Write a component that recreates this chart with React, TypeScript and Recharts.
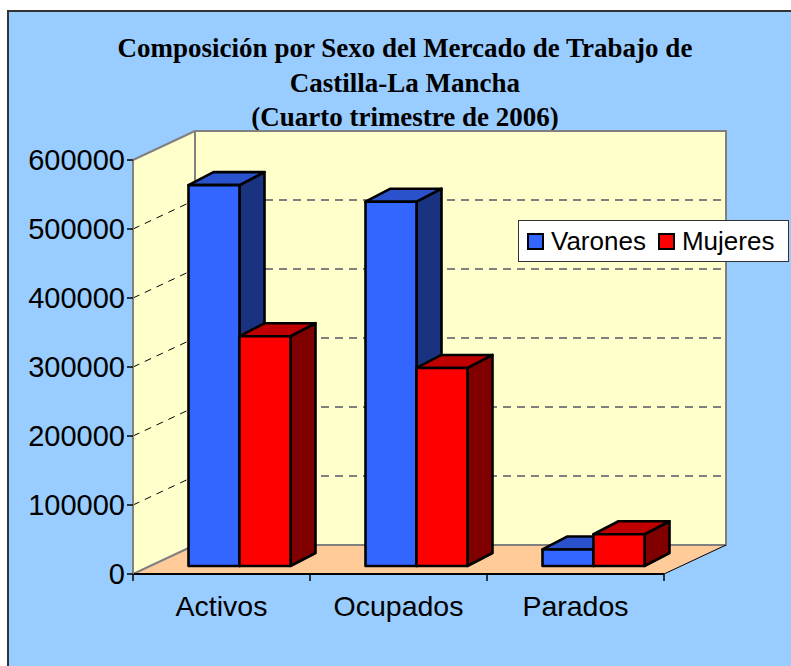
import React from 'react';
import { BarChart, Bar, XAxis, YAxis, ReferenceArea, ReferenceLine, Legend } from 'recharts';

const categories = ['Activos', 'Ocupados', 'Parados'];
const seriesNames = ['Varones', 'Mujeres'];
const varones = [552000, 528000, 24000];
const mujeres = [333000, 287000, 46000];
const yTicks = [0, 100000, 200000, 300000, 400000, 500000, 600000];
const gridValues = [100000, 200000, 300000, 400000, 500000];
const titleLines = [
  'Composición por Sexo del Mercado de Trabajo de',
  'Castilla-La Mancha',
  '(Cuarto trimestre de 2006)',
];

const data = categories.map((c, i) => ({ cat: c, Varones: varones[i], Mujeres: mujeres[i] }));

const DX = 62;
const DY = -29;
const BOX = 17.5;
const BOY = -8;
const BDX = 25;
const BDY = -13;

const SANS = '"Liberation Sans", Arial, sans-serif';
const SERIF = '"Liberation Serif", "Times New Roman", serif';

const pts = (arr: number[][]) => arr.map((a) => a.join(',')).join(' ');

function make3D(front: string, top: string, side: string) {
  return (p: any) => {
    const { x, y, width, height } = p;
    if (x == null || y == null || !width || height == null) return <g />;
    const fx = x + BOX;
    const fy = y + BOY;
    const w = width;
    const h = height;
    const common = { stroke: '#000', strokeWidth: 2.6, strokeLinejoin: 'round' as const };
    return (
      <g>
        <polygon
          points={pts([
            [fx + w, fy],
            [fx + w + BDX, fy + BDY],
            [fx + w + BDX, fy + h + BDY],
            [fx + w, fy + h],
          ])}
          fill={side}
          {...common}
        />
        <polygon
          points={pts([
            [fx, fy],
            [fx + BDX, fy + BDY],
            [fx + w + BDX, fy + BDY],
            [fx + w, fy],
          ])}
          fill={top}
          {...common}
        />
        <rect x={fx} y={fy} width={w} height={h} fill={front} {...common} />
      </g>
    );
  };
}

const Walls = (p: any) => {
  const { x, y, width: w, height: h } = p;
  if (x == null) return <g />;
  const b = y + h;
  const ticks = [0, 1, 2, 3].map((i) => x + (i * w) / 3);
  return (
    <g>
      <polygon points={pts([[x, y], [x + DX, y + DY], [x + DX, b + DY], [x, b]])} fill="#FFFFCC" />
      <rect x={x + DX} y={y + DY} width={w} height={h} fill="#FFFFCC" stroke="#808080" strokeWidth={2} />
      <polygon points={pts([[x, b], [x + DX, b + DY], [x + w + DX, b + DY], [x + w, b]])} fill="#FFCC99" />
      <line x1={x} y1={y} x2={x + DX} y2={y + DY} stroke="#808080" strokeWidth={2} />
      <line x1={x} y1={b} x2={x + DX} y2={b + DY} stroke="#808080" strokeWidth={2} />
      <line x1={x + DX} y1={b + DY} x2={x + w + DX} y2={b + DY} stroke="#808080" strokeWidth={2} />
      <line x1={x + w} y1={b} x2={x + w + DX} y2={b + DY} stroke="#000" strokeWidth={1} />
      {ticks.map((tx, i) => (
        <line key={i} x1={tx} y1={b} x2={tx} y2={b + 7} stroke="#000" strokeWidth={1.5} />
      ))}
    </g>
  );
};

const GridShape = (p: any) => {
  const { x1, y1, x2 } = p;
  if (x1 == null || y1 == null) return <g />;
  return (
    <g>
      <line x1={x1 + DX} y1={y1 + DY} x2={x2 + DX} y2={y1 + DY} stroke="#808080" strokeWidth={2} strokeDasharray="8 6" />
      <line x1={x1} y1={y1} x2={x1 + DX} y2={y1 + DY} stroke="#000" strokeWidth={1} strokeDasharray="7 6" />
    </g>
  );
};

const renderLegend = (props: any) => {
  const payload = [...(props.payload || [])].sort(
    (a: any, b: any) => seriesNames.indexOf(a.value) - seriesNames.indexOf(b.value)
  );
  return (
    <div
      style={{
        width: 271,
        height: 42,
        boxSizing: 'border-box',
        border: '1px solid #333',
        background: '#fff',
        display: 'flex',
        alignItems: 'center',
        paddingLeft: 8,
        fontFamily: SANS,
        fontSize: 26,
        color: '#000',
        whiteSpace: 'nowrap',
      }}
    >
      {payload.map((e: any) => (
        <div key={e.value} style={{ display: 'flex', alignItems: 'center', marginRight: 12 }}>
          <span
            style={{
              display: 'inline-block',
              width: 17,
              height: 17,
              boxSizing: 'border-box',
              border: '2px solid #000',
              background: e.color,
              marginRight: 7,
            }}
          />
          <span>{e.value}</span>
        </div>
      ))}
    </div>
  );
};

export default function App() {
  return (
    <div style={{ position: 'absolute', left: 0, top: 0, width: 791, height: 666, overflow: 'hidden' }}>
      <div
        style={{
          position: 'absolute',
          left: 7,
          top: 10,
          width: 820,
          height: 700,
          background: '#99CCFF',
          border: '2px solid #333',
        }}
      />
      <svg style={{ position: 'absolute', left: 0, top: 0 }} width={791} height={140}>
        {titleLines.map((t, i) => (
          <text
            key={i}
            x={405}
            y={57 + i * 34.5}
            textAnchor="middle"
            fontFamily={SERIF}
            fontWeight="bold"
            fontSize={27}
            fill="#000"
          >
            {t}
          </text>
        ))}
      </svg>
      <div style={{ position: 'absolute', left: 0, top: 0 }}>
        <BarChart
          width={791}
          height={666}
          data={data}
          margin={{ top: 160, right: 127, left: 33, bottom: 52 }}
          barSize={51}
          barGap={0}
        >
          <ReferenceArea y1={0} y2={600000} shape={Walls} ifOverflow="visible" zIndex={-200} />
          {gridValues.map((v) => (
            <ReferenceLine key={v} y={v} shape={GridShape} ifOverflow="visible" zIndex={-150} />
          ))}
          <XAxis
            dataKey="cat"
            axisLine={{ stroke: '#000', strokeWidth: 2 }}
            tickLine={false}
            tickSize={6}
            tickMargin={16}
            height={40}
            tick={{ fontSize: 28.5, fill: '#000', fontFamily: SANS }}
          />
          <YAxis
            domain={[0, 600000]}
            ticks={yTicks}
            interval={0}
            width={100}
            axisLine={{ stroke: '#808080', strokeWidth: 2 }}
            tickLine={{ stroke: '#000', strokeWidth: 1.5 }}
            tickSize={6}
            tickMargin={2}
            tick={{ fontSize: 29, fill: '#000', fontFamily: SANS }}
          />
          <Legend
            layout="horizontal"
            verticalAlign="middle"
            align="center"
            content={renderLegend}
            wrapperStyle={{ position: 'absolute', left: 518, top: 220, width: 271, height: 42, margin: 0, padding: 0 }}
          />
          <Bar dataKey="Varones" fill="#3366FF" isAnimationActive={false} shape={make3D('#3366FF', '#2A52CC', '#1A3380')} />
          <Bar dataKey="Mujeres" fill="#FF0000" isAnimationActive={false} shape={make3D('#FF0000', '#C00000', '#800000')} />
        </BarChart>
      </div>
    </div>
  );
}
